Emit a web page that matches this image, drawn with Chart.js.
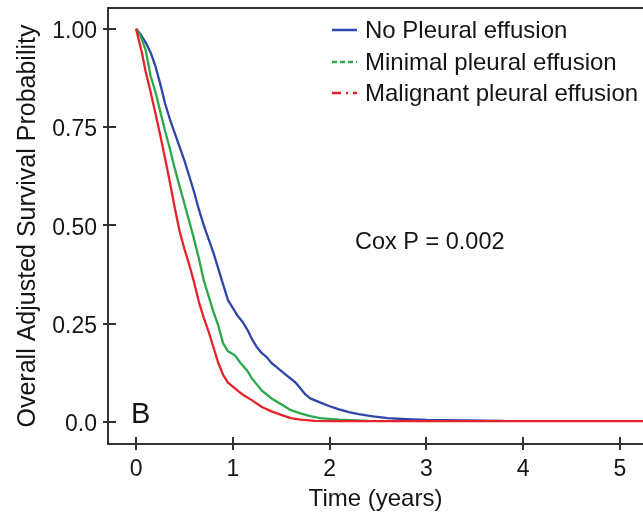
<!DOCTYPE html>
<html>
<head>
<meta charset="utf-8">
<script src="https://cdn.jsdelivr.net/npm/chart.js@4/dist/chart.umd.min.js"></script>
<style>
  html, body { margin: 0; padding: 0; background: #fff; }
  #wrap { width: 643px; height: 514px; }
</style>
</head>
<body>
<div id="wrap"><canvas id="c" width="643" height="514"></canvas></div>
<script>
// ---- data ----
const seriesNames = ['No Pleural effusion', 'Minimal pleural effusion', 'Malignant pleural effusion'];

const noEffTime = [0, 0.05, 0.10, 0.15, 0.20, 0.25, 0.30, 0.35, 0.40, 0.45, 0.50, 0.55, 0.60, 0.65, 0.70, 0.75, 0.80, 0.85, 0.90, 0.95, 1.00, 1.05, 1.10, 1.15, 1.20, 1.25, 1.30, 1.35, 1.40, 1.45, 1.50, 1.55, 1.60, 1.65, 1.70, 1.75, 1.80, 1.90, 2.00, 2.10, 2.20, 2.30, 2.45, 2.60, 2.80, 3.00, 3.80];
const noEffSurv = [1.0, 0.985, 0.965, 0.94, 0.905, 0.86, 0.81, 0.77, 0.735, 0.70, 0.665, 0.625, 0.585, 0.54, 0.50, 0.465, 0.43, 0.39, 0.35, 0.31, 0.29, 0.27, 0.255, 0.235, 0.21, 0.19, 0.175, 0.165, 0.15, 0.14, 0.13, 0.12, 0.11, 0.10, 0.085, 0.07, 0.06, 0.05, 0.04, 0.032, 0.025, 0.02, 0.014, 0.01, 0.007, 0.005, 0.003];

const minEffTime = [0, 0.05, 0.10, 0.15, 0.20, 0.25, 0.30, 0.35, 0.40, 0.45, 0.50, 0.55, 0.60, 0.65, 0.70, 0.75, 0.80, 0.85, 0.90, 0.95, 1.02, 1.08, 1.15, 1.20, 1.25, 1.30, 1.40, 1.50, 1.60, 1.70, 1.80, 1.90, 2.10, 2.40];
const minEffSurv = [1.0, 0.98, 0.945, 0.88, 0.84, 0.79, 0.74, 0.695, 0.645, 0.60, 0.555, 0.51, 0.465, 0.415, 0.36, 0.32, 0.28, 0.245, 0.20, 0.18, 0.17, 0.15, 0.13, 0.11, 0.095, 0.08, 0.06, 0.045, 0.03, 0.022, 0.015, 0.01, 0.006, 0.003];

const malEffTime = [0, 0.03, 0.06, 0.10, 0.15, 0.20, 0.25, 0.30, 0.35, 0.40, 0.45, 0.50, 0.55, 0.60, 0.65, 0.70, 0.75, 0.80, 0.85, 0.90, 0.95, 1.00, 1.05, 1.10, 1.20, 1.30, 1.40, 1.50, 1.60, 1.70, 1.85, 2.00, 5.24];
const malEffSurv = [1.0, 0.97, 0.94, 0.89, 0.84, 0.785, 0.73, 0.67, 0.61, 0.545, 0.485, 0.44, 0.40, 0.355, 0.305, 0.265, 0.23, 0.19, 0.15, 0.12, 0.10, 0.09, 0.08, 0.07, 0.055, 0.038, 0.027, 0.018, 0.01, 0.006, 0.003, 0.002, 0.002];

const xTickValues = [0, 1, 2, 3, 4, 5];
const yTickValues = [0, 0.25, 0.5, 0.75, 1.0];
const yTickLabels = ['0.0', '0.25', '0.50', '0.75', '1.00'];

const seriesColors = ['#2d46aa', '#2aa84a', '#e6232a'];
const legendDash = [[], [5, 3], [9, 5, 2, 5]];

// ---- build ----
const toXY = (t, s) => t.map((v, i) => ({ x: v, y: s[i] }));
const FONT = '"Liberation Sans", Arial, Helvetica, sans-serif';
const INK = '#151515';

const frame = {
  id: 'frame',
  afterDatasetsDraw(chart) {
    const { ctx, chartArea: a, scales: { x, y } } = chart;
    ctx.save();
    ctx.strokeStyle = '#333';
    ctx.lineWidth = 2;
    ctx.beginPath();
    ctx.moveTo(a.left, a.top); ctx.lineTo(a.right, a.top);
    ctx.stroke();
    ctx.beginPath();
    xTickValues.forEach(v => {
      const p = Math.round(x.getPixelForValue(v));
      ctx.moveTo(p, a.bottom - 7); ctx.lineTo(p, a.bottom + 6);
    });
    yTickValues.forEach(v => {
      const p = Math.round(y.getPixelForValue(v));
      ctx.moveTo(a.left - 5, p); ctx.lineTo(a.left + 8, p);
    });
    ctx.stroke();
    ctx.restore();
  }
};

const annot = {
  id: 'annot',
  afterDraw(chart) {
    const { ctx } = chart;
    ctx.save();
    const rows = [30, 62, 93];
    chart.data.datasets.forEach((ds, i) => {
      const yy = rows[i];
      ctx.strokeStyle = ds.borderColor;
      ctx.lineWidth = 2.5;
      ctx.setLineDash(legendDash[i]);
      ctx.beginPath();
      ctx.moveTo(332, yy); ctx.lineTo(357, yy);
      ctx.stroke();
      ctx.setLineDash([]);
      ctx.fillStyle = INK;
      ctx.font = '24px ' + FONT;
      ctx.textAlign = 'left';
      ctx.textBaseline = 'middle';
      ctx.fillText(ds.label, 365, yy + 1);
    });
    ctx.font = '23.5px ' + FONT;
    ctx.fillStyle = INK;
    ctx.textBaseline = 'middle';
    ctx.fillText('Cox P = 0.002', 355, 243);
    ctx.font = '29px ' + FONT;
    ctx.textBaseline = 'alphabetic';
    ctx.fillText('B', 131, 423);
    ctx.restore();
  }
};

new Chart(document.getElementById('c'), {
  type: 'line',
  data: {
    datasets: [
      { label: seriesNames[0], data: toXY(noEffTime, noEffSurv), borderColor: seriesColors[0], order: 3 },
      { label: seriesNames[1], data: toXY(minEffTime, minEffSurv), borderColor: seriesColors[1], order: 2 },
      { label: seriesNames[2], data: toXY(malEffTime, malEffSurv), borderColor: seriesColors[2], order: 1 }
    ]
  },
  options: {
    responsive: false,
    animation: false,
    layout: { padding: { top: 8, right: 0, bottom: 0, left: 0 } },
    elements: {
      point: { radius: 0 },
      line: { borderWidth: 2.3, tension: 0, fill: false, borderJoinStyle: 'round' }
    },
    plugins: { legend: { display: false }, tooltip: { enabled: false } },
    scales: {
      x: {
        type: 'linear',
        min: -0.29, max: 5.24,
        afterBuildTicks: s => { s.ticks = xTickValues.map(v => ({ value: v })); },
        afterFit: s => { s.height = 70; s.paddingLeft = 0; s.paddingRight = 0; },
        grid: { display: false, drawTicks: false },
        border: { display: true, color: '#333', width: 2 },
        ticks: { padding: 12, color: INK, font: { family: FONT, size: 23 }, maxRotation: 0, autoSkip: false,
                 callback: v => String(v) },
        title: { display: true, text: 'Time (years)', color: INK, font: { family: FONT, size: 24 }, padding: { top: 0, bottom: 0 } }
      },
      y: {
        type: 'linear',
        min: -0.056, max: 1.053,
        afterBuildTicks: s => { s.ticks = yTickValues.map(v => ({ value: v })); },
        afterFit: s => { s.width = 108; s.paddingTop = 0; s.paddingBottom = 0; },
        grid: { display: false, drawTicks: false },
        border: { display: true, color: '#333', width: 2 },
        ticks: { padding: 11, labelOffset: 3, color: INK, font: { family: FONT, size: 23 }, autoSkip: false,
                 callback: v => yTickLabels[yTickValues.indexOf(v)] },
        title: { display: true, text: 'Overall Adjusted Survival Probability', color: INK, font: { family: FONT, size: 25 }, padding: { top: 13, bottom: 0 } }
      }
    }
  },
  plugins: [frame, annot]
});
</script>
</body>
</html>
